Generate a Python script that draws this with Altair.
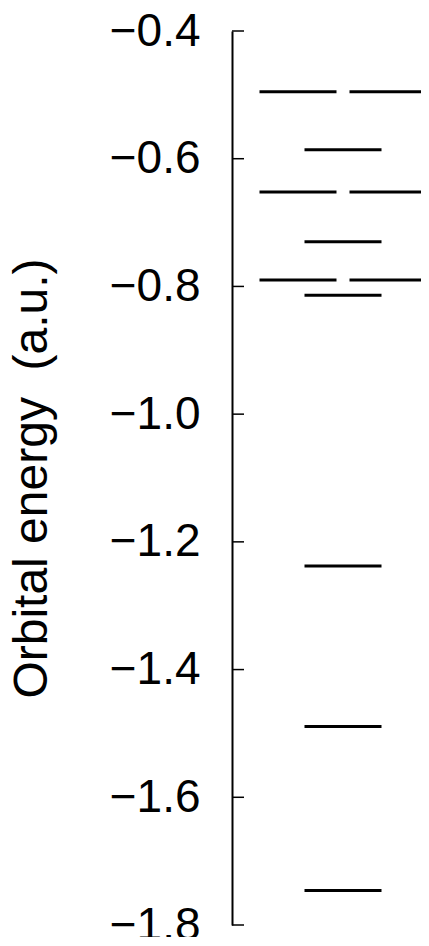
import altair as alt
import pandas as pd

# Orbital energies (a.u.) and their horizontal slot (L = left of pair, R = right of pair, C = single)
energies = [-0.495, -0.495, -0.586, -0.652, -0.652, -0.730, -0.790, -0.790, -0.814, -1.238, -1.489, -1.746]
slots = ["L", "R", "C", "L", "R", "C", "L", "R", "C", "C", "C", "C"]
ytick_values = [-0.4, -0.6, -0.8, -1.0, -1.2, -1.4, -1.6, -1.8]
y_title = "Orbital energy\u00a0\u00a0(a.u.)"

levels = pd.DataFrame({"energy": energies, "slot": slots})
ticks = pd.DataFrame({"energy": ytick_values})

yscale = alt.Scale(domain=[-1.8, -0.4], nice=False, zero=False, padding=0)

lv = alt.Chart(levels).mark_tick(color="black", thickness=3, size=77, opacity=1).encode(
    x=alt.X("slot:O", scale=alt.Scale(type="point", domain=["L", "C", "R"], range=[66, 156], padding=0),
            axis=None),
    y=alt.Y("energy:Q", scale=yscale,
            axis=alt.Axis(values=ytick_values, format=".1f", title=y_title,
                          ticks=False, tickSize=0, labelPadding=32,
                          labelFont="Liberation Sans", labelFontSize=46, labelColor="black",
                          labelBaseline="middle",
                          titleFont="Liberation Sans", titleFontSize=48, titleFontWeight="normal",
                          titleColor="black", titleAngle=270, titleX=-186, titleY=447,
                          titleAlign="center", titleBaseline="alphabetic",
                          domainColor="black", domainWidth=2, grid=False, labelFlush=False)),
)

tk = alt.Chart(ticks).mark_rule(color="black", strokeWidth=1.5).encode(
    y=alt.Y("energy:Q", scale=yscale),
    x=alt.value(0),
    x2=alt.value(12),
)

chart = alt.layer(lv, tk).properties(
    width=189,
    height=894,
    background="white",
    autosize=alt.AutoSizeParams(type="none"),
    padding={"left": 224, "top": 23, "right": 0, "bottom": 12},
).configure_view(strokeWidth=0, stroke="transparent")

chart.save("out.html", embed_options={"renderer": "svg", "actions": False})
